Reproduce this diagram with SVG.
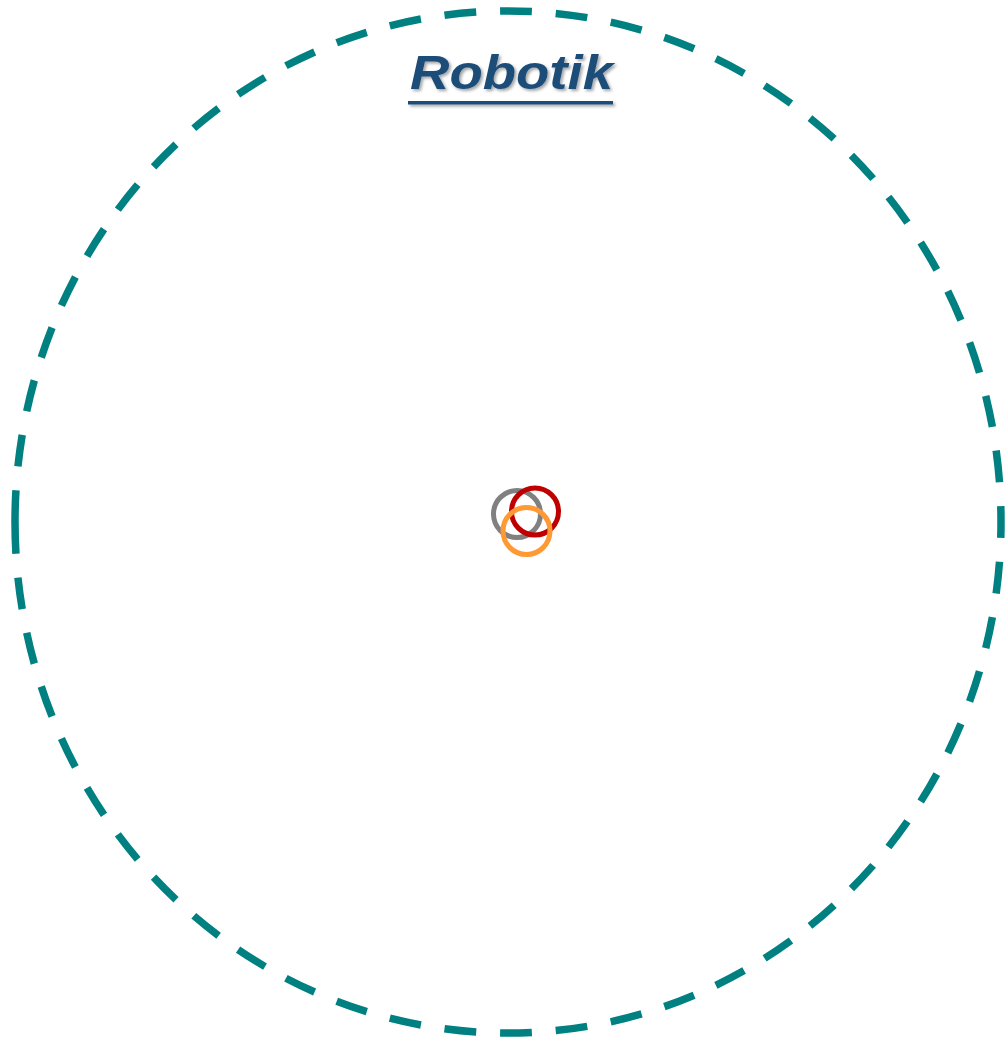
<svg xmlns="http://www.w3.org/2000/svg" width="1008" height="1044" viewBox="0 0 1008 1044">
<style>
.ring{fill:none;stroke-width:5}
.title{font-family:"Liberation Sans",Arial,sans-serif;font-weight:bold;font-style:italic;font-size:48px;fill:#1F4E79}
</style>
<defs>
<filter id="sh" x="-10%" y="-30%" width="120%" height="160%">
<feDropShadow dx="2" dy="2" stdDeviation="1.5" flood-color="#000" flood-opacity="0.35"/>
</filter>
</defs>
<rect width="1008" height="1044" fill="#fff"/>
<g id="boundary">
<path d="M15,522 A493,511 0 1,1 1001,522 A493,511 0 1,1 15,522" pathLength="3168" fill="none" stroke="#008080" stroke-width="7.5" stroke-dasharray="32 24"/>
</g>
<g id="title" filter="url(#sh)">
<text class="title" x="410" y="89" textLength="203" lengthAdjust="spacingAndGlyphs">Robotik</text>
<rect x="408" y="101" width="205" height="3.5" fill="#1F4E79"/>
</g>
<g id="logo">
<circle class="ring" cx="517" cy="514" r="23.5" stroke="#808080"/>
<circle class="ring" cx="535" cy="511.5" r="23.5" stroke="#C00000"/>
<circle class="ring" cx="526.5" cy="531" r="23.5" stroke="#FF9933"/>
</g>
</svg>
